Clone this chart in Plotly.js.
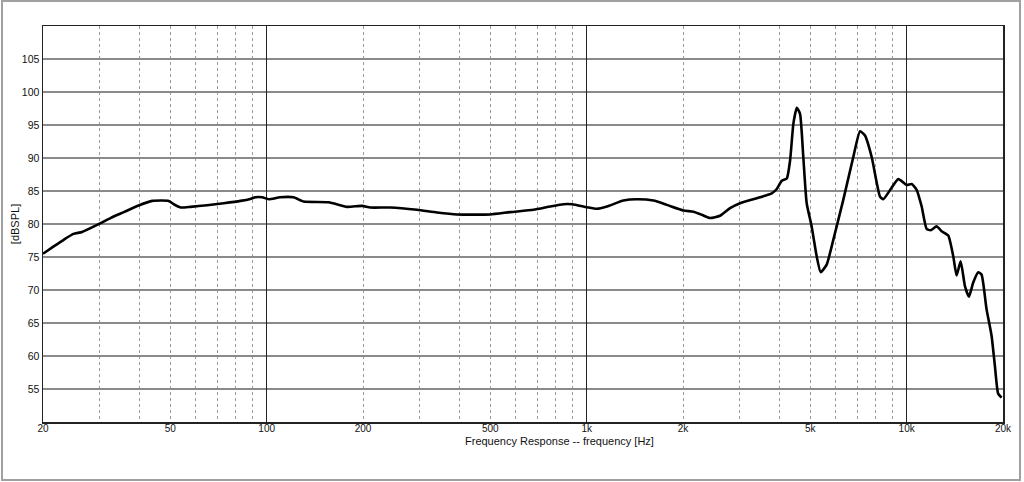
<!DOCTYPE html>
<html>
<head>
<meta charset="utf-8">
<script src="https://cdn.plot.ly/plotly-3.0.1.min.js"></script>
<style>
html,body{margin:0;padding:0;background:#fff;}
#wrap{position:relative;width:1024px;height:482px;}
#chart{width:1024px;height:482px;}
#frame{position:absolute;left:1px;top:0;width:1020px;height:481px;border:2px solid #a0a0a0;box-sizing:border-box;pointer-events:none;}
</style>
</head>
<body>
<div id="wrap"><div id="chart"></div><div id="frame"></div></div>
<script>
// Frequency response data (Hz, dB SPL)
const freqHz = [20, 21.6, 23.2, 24.9, 26.5, 29.9, 32.5, 35.8, 39.8, 43.9, 49.4, 51.2, 53.8, 57.8, 65.1, 73.4, 82.8, 88.9, 92.2, 96.8, 101.5, 110, 121.4, 130.5, 156.2, 178.3, 198.6, 210.8, 243.4, 294.9, 340.4, 393.3, 499.4, 577, 682, 769, 846, 899, 1001, 1076, 1157, 1303, 1435, 1617, 1780, 2006, 2155, 2289, 2431, 2611, 2806, 3015, 3401, 3788, 3927, 4071, 4221, 4322, 4426, 4535, 4642, 4753, 4870, 5049, 5234, 5387, 5624, 5898, 6337, 6811, 7149, 7410, 7774, 8254, 8452, 9415, 10000, 10370, 10750, 11140, 11546, 11883, 12406, 12862, 13487, 13982, 14324, 14745, 15209, 15654, 16133, 16724, 17138, 17766, 18416, 18858, 19311, 19798];
const splDb = [75.5, 76.6, 77.6, 78.5, 78.8, 80.0, 80.9, 81.8, 82.8, 83.5, 83.5, 83.0, 82.5, 82.6, 82.85, 83.15, 83.5, 83.8, 84.05, 84.05, 83.75, 84.05, 84.05, 83.4, 83.3, 82.6, 82.75, 82.5, 82.5, 82.15, 81.75, 81.45, 81.45, 81.8, 82.15, 82.65, 83.0, 83.0, 82.55, 82.3, 82.65, 83.55, 83.75, 83.55, 82.9, 82.05, 81.85, 81.4, 80.9, 81.25, 82.4, 83.15, 83.9, 84.65, 85.3, 86.55, 86.9, 89.65, 95.2, 97.6, 96.7, 90.15, 83.15, 79.6, 75.1, 72.7, 73.85, 77.6, 83.65, 90.15, 94.05, 93.4, 90.15, 84.15, 83.75, 86.8, 85.9, 86.05, 85.15, 82.65, 79.25, 79.05, 79.65, 78.9, 78.25, 75.1, 72.2, 74.35, 70.6, 69.0, 71.1, 72.7, 72.35, 67.1, 63.1, 58.6, 54.3, 53.7];

const xTickVals = [20, 50, 100, 200, 500, 1000, 2000, 5000, 10000, 20000];
const xTickText = ['20', '50', '100', '200', '500', '1k', '2k', '5k', '10k', '20k'];
const xMinorVals = [30, 40, 50, 60, 70, 80, 90, 200, 300, 400, 500, 600, 700, 800, 900, 2000, 3000, 4000, 5000, 6000, 7000, 8000, 9000];
const xDecadeVals = [100, 1000, 10000];
const yTickVals = [55, 60, 65, 70, 75, 80, 85, 90, 95, 100, 105];

const xRange = [Math.log10(20), Math.log10(20000)];
const font = 'Arial, "Liberation Sans", sans-serif';

const trace = {
  x: freqHz, y: splDb, type: 'scatter', mode: 'lines',
  line: {color: '#000', width: 2.6, shape: 'spline', smoothing: 0.5},
  xaxis: 'x', yaxis: 'y', hoverinfo: 'skip', showlegend: false
};
// invisible helper trace so the decade-grid axis is built
const gridHelper = {
  x: xDecadeVals, y: xDecadeVals.map(() => null), type: 'scatter', mode: 'lines',
  xaxis: 'x2', yaxis: 'y', hoverinfo: 'skip', showlegend: false, line: {width: 0}
};

const layout = {
  width: 1024, height: 482,
  margin: {l: 43, r: 21, t: 26, b: 60, pad: 0},
  paper_bgcolor: '#fff', plot_bgcolor: '#fff',
  showlegend: false,
  font: {family: font, color: '#111', size: 11},
  xaxis: {
    type: 'log', range: xRange, tickmode: 'array', tickvals: xTickVals, ticktext: xTickText,
    showgrid: false, zeroline: false, ticks: '', ticklen: 0, ticklabelstandoff: -4,
    tickfont: {family: font, size: 10, color: '#111'},
    showline: true, linecolor: '#222', linewidth: 1.5, mirror: true,
    minor: {tickmode: 'array', tickvals: xMinorVals, showgrid: true, gridcolor: '#9a9a9a', griddash: 'dot', gridwidth: 1, ticks: ''}
  },
  xaxis2: {
    type: 'log', range: xRange, overlaying: 'x', anchor: 'y', side: 'bottom', tickmode: 'array', tickvals: xDecadeVals,
    showticklabels: false, ticks: '', showgrid: true, gridcolor: '#222', gridwidth: 1.5, zeroline: false, showline: false
  },
  yaxis: {
    range: [50, 110], tickmode: 'array', tickvals: yTickVals,
    showgrid: true, gridcolor: '#8a8a8a', gridwidth: 1.3, zeroline: false, ticks: '',
    tickfont: {family: font, size: 10.5, color: '#111'},
    showline: true, linecolor: '#222', linewidth: 1.5, mirror: true,
    title: {text: '[dBSPL]', font: {family: font, size: 11, color: '#111'}, standoff: 0}
  },
  annotations: [{
    text: 'Frequency Response -- frequency [Hz]', xref: 'paper', yref: 'paper',
    x: 0.5385, y: -0.048, xanchor: 'center', yanchor: 'middle', showarrow: false,
    font: {family: font, size: 11, color: '#111'}
  }]
};

Plotly.newPlot('chart', [trace, gridHelper], layout, {staticPlot: true, displayModeBar: false});
</script>
</body>
</html>
